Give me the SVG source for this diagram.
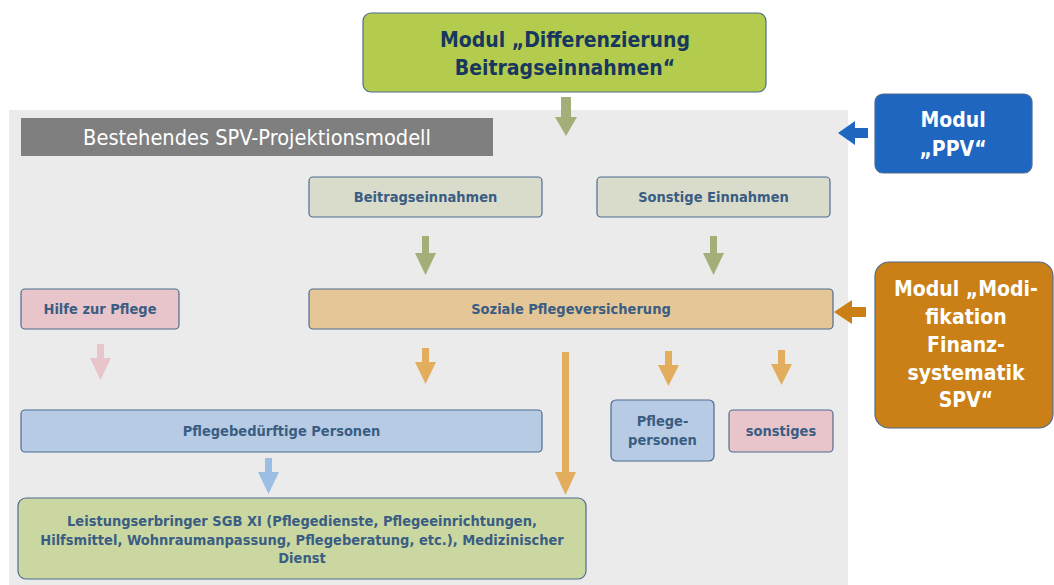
<svg xmlns="http://www.w3.org/2000/svg" width="1054" height="585" viewBox="0 0 1054 585">
<style>
.box{stroke:#4D6D8F;stroke-width:1.2}
.lbl{font-family:"DejaVu Sans Condensed","DejaVu Sans",sans-serif;font-weight:bold;font-size:14.5px;fill:#3A5D83;text-anchor:middle}
.mod{font-family:"DejaVu Sans Condensed","DejaVu Sans",sans-serif;font-weight:bold;text-anchor:middle}
.ag{fill:#A2AF78}
.ao{fill:#E2AE5E}
.ap{fill:#E8C5CA}
.ab{fill:#9DBEE4}
</style>
<rect x="9" y="110" width="839" height="475" fill="#EBEBEB"/>
<g id="title">
<rect x="21" y="118" width="472" height="38" fill="#7F7F7F"/>
<text x="257" y="144.5" font-family="DejaVu Sans Condensed,DejaVu Sans,sans-serif" font-size="21.6" fill="#FFFFFF" text-anchor="middle">Bestehendes SPV-Projektionsmodell</text>
</g>
<g id="connectors">
<path class="ag" d="M561,97H571V117H577L566,136L555,117H561Z"/>
<path d="M868,128V138H855V145L838,133L855,121V128Z" fill="#1E66BF"/>
<path d="M866,307V317H852V324L834,312L852,300V307Z" fill="#CA8016"/>
<path class="ag" d="M422,236H429V253H436L425.5,275L415,253H422Z"/>
<path class="ag" d="M710,236H717V253H724L713.5,275L703,253H710Z"/>
<path class="ap" d="M97,344H104V358H111L100.5,380L90,358H97Z"/>
<path class="ao" d="M422,348H429V362H436L425.5,384L415,362H422Z"/>
<path class="ao" d="M665,351H672V365H679L668.5,386L658,365H665Z"/>
<path class="ao" d="M778,350H785V364H792L781.5,385L771,364H778Z"/>
<path class="ao" d="M562,352H569V472H576L565.5,495L555,472H562Z"/>
<path class="ab" d="M265,458H272V472H279L268.5,494L258,472H265Z"/>
</g>
<g id="modul-differenzierung">
<rect class="box" x="363" y="13" width="403" height="79" rx="8" fill="#B4CC4E"/>
<text class="mod" x="565" y="46.5" font-size="21" fill="#17375E">Modul „Differenzierung</text>
<text class="mod" x="565" y="74.5" font-size="21" fill="#17375E">Beitragseinnahmen“</text>
</g>
<g id="modul-ppv">
<rect class="box" x="875" y="94" width="157" height="79" rx="8" fill="#1E66BF"/>
<text class="mod" x="953" y="127" font-size="21" fill="#FFFFFF">Modul</text>
<text class="mod" x="953" y="156" font-size="21" fill="#FFFFFF">„PPV“</text>
</g>
<g id="modul-modifikation">
<rect class="box" x="875" y="262" width="178" height="166" rx="14" fill="#CA8016"/>
<text class="mod" x="966" y="296" font-size="21" fill="#FFFFFF">Modul „Modi-</text>
<text class="mod" x="966" y="324" font-size="21" fill="#FFFFFF">fikation</text>
<text class="mod" x="966" y="352" font-size="21" fill="#FFFFFF">Finanz-</text>
<text class="mod" x="966" y="380" font-size="21" fill="#FFFFFF">systematik</text>
<text class="mod" x="966" y="407" font-size="21" fill="#FFFFFF">SPV“</text>
</g>
<g id="beitragseinnahmen">
<rect class="box" x="309" y="177" width="233" height="40" rx="4" fill="#D9DBCB"/>
<text class="lbl" x="425.5" y="201.5">Beitragseinnahmen</text>
</g>
<g id="sonstige-einnahmen">
<rect class="box" x="597" y="177" width="233" height="40" rx="4" fill="#D9DBCB"/>
<text class="lbl" x="713.5" y="201.5">Sonstige Einnahmen</text>
</g>
<g id="hilfe-zur-pflege">
<rect class="box" x="21" y="289" width="158" height="40" rx="4" fill="#E7C5CA"/>
<text class="lbl" x="100" y="313.5">Hilfe zur Pflege</text>
</g>
<g id="soziale-pflegeversicherung">
<rect class="box" x="309" y="289" width="524" height="40" rx="4" fill="#E5C697"/>
<text class="lbl" x="571" y="313.5">Soziale Pflegeversicherung</text>
</g>
<g id="pflegebeduerftige">
<rect class="box" x="21" y="410" width="521" height="42" rx="4" fill="#B7CCE4"/>
<text class="lbl" x="281.5" y="436">Pflegebedürftige Personen</text>
</g>
<g id="pflegepersonen">
<rect class="box" x="611" y="400" width="103" height="61" rx="5" fill="#B7CCE4"/>
<text class="lbl" x="662.5" y="426">Pflege-</text>
<text class="lbl" x="662.5" y="445">personen</text>
</g>
<g id="sonstiges">
<rect class="box" x="729" y="410" width="104" height="42" rx="4" fill="#E7C5CA"/>
<text class="lbl" x="781" y="436">sonstiges</text>
</g>
<g id="leistungserbringer">
<rect class="box" x="18" y="498" width="568" height="81" rx="8" fill="#CAD7A1"/>
<text class="lbl" x="302" y="526">Leistungserbringer SGB XI (Pflegedienste, Pflegeeinrichtungen,</text>
<text class="lbl" x="302" y="544.5">Hilfsmittel, Wohnraumanpassung, Pflegeberatung, etc.), Medizinischer</text>
<text class="lbl" x="302" y="563">Dienst</text>
</g>
</svg>
